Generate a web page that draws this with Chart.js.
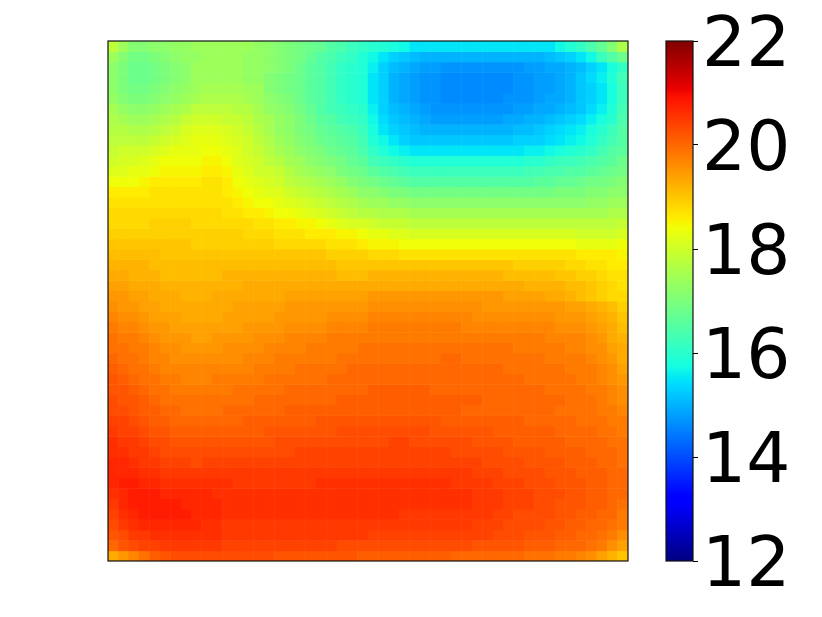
<!DOCTYPE html>
<html><head><meta charset="utf-8">
<script src="https://cdn.jsdelivr.net/npm/chart.js@4"></script>
<style>html,body{margin:0;padding:0;background:#fff}canvas{position:absolute;left:0;top:0}</style>
</head><body>
<canvas id="heat" width="822" height="617"></canvas>
<canvas id="bar" width="822" height="617"></canvas>
<script>
// Heat values in tenths of a unit; each row runs left to right, first row is the top of the map.
const row00=[178,174,171,171,172,172,173,173,174,174,174,174,174,174,173,172,171,170,169,168,167,165,164,162,161,160,159,158,157,155,155,155,155,155,155,155,155,155,155,155,155,155,155,157,159,161,164,167,171,176];
const row01=[174,171,169,169,170,171,172,173,173,174,174,174,174,173,173,172,171,170,169,167,165,164,162,161,159,157,155,153,152,151,150,150,150,150,150,150,150,150,150,150,150,150,151,152,153,155,157,162,165,168];
const row02=[172,170,168,168,169,170,171,172,174,174,174,174,174,173,173,172,171,170,168,166,165,163,161,160,159,156,153,151,150,149,148,148,147,147,147,147,147,147,147,147,148,148,149,149,150,151,153,155,158,161];
const row03=[172,170,168,168,169,170,171,172,174,174,174,174,174,173,173,171,170,169,168,166,165,163,161,160,159,155,153,150,149,148,147,147,146,146,146,146,146,146,146,147,147,148,148,149,150,152,154,156,159,163];
const row04=[172,170,169,169,170,171,172,173,174,175,175,175,175,174,174,171,170,169,168,166,165,163,161,160,159,155,153,150,149,148,147,147,146,146,146,146,146,146,146,147,147,148,148,149,150,152,153,155,158,162];
const row05=[173,171,170,170,171,172,173,174,175,176,176,176,176,175,174,172,171,170,168,166,165,163,161,160,159,155,153,150,149,148,147,147,146,146,146,146,146,146,147,147,147,148,149,149,150,152,153,155,158,162];
const row06=[175,173,172,172,173,174,175,176,178,178,178,178,177,177,175,173,172,171,169,167,165,163,162,161,160,156,153,151,150,149,148,147,147,147,147,147,147,147,147,148,148,149,149,150,151,152,154,156,159,163];
const row07=[176,175,174,174,175,176,177,179,180,180,180,179,179,178,176,175,173,172,170,168,166,165,163,162,161,157,154,152,151,150,149,148,148,148,148,148,148,148,149,149,150,150,151,152,153,154,156,158,160,164];
const row08=[177,177,176,176,177,178,179,181,182,182,182,181,180,179,177,175,173,172,170,169,167,166,165,164,162,158,155,153,152,151,150,150,150,150,150,150,150,150,150,151,151,152,153,154,155,156,158,160,162,165];
const row09=[178,178,178,178,179,180,181,182,183,183,183,182,181,180,178,176,174,173,171,170,168,167,166,165,163,159,157,155,153,152,152,152,152,152,152,152,152,152,152,153,153,153,154,155,156,157,159,161,163,165];
const row10=[179,180,180,180,181,182,183,183,183,184,184,183,182,180,179,177,175,174,172,171,170,168,167,166,164,161,159,157,156,155,155,155,155,155,155,155,155,155,155,155,156,156,157,158,159,160,161,163,165,166];
const row11=[180,181,181,182,183,184,184,184,184,185,185,184,182,181,180,178,177,175,174,172,171,170,169,167,166,163,162,161,160,159,159,159,159,159,159,159,159,159,159,159,160,160,161,162,162,163,164,165,166,168];
const row12=[182,182,183,183,184,185,185,185,185,186,186,185,183,182,180,180,179,177,175,174,173,172,170,169,168,166,165,164,163,162,162,162,162,162,162,162,162,162,162,162,163,163,164,164,165,165,166,167,168,169];
const row13=[184,184,184,185,186,186,186,186,186,187,187,186,184,183,182,181,180,178,177,176,175,174,173,171,170,169,168,167,166,165,165,165,165,165,165,165,165,165,165,165,165,166,166,167,167,168,169,169,170,171];
const row14=[186,186,186,186,187,187,187,187,187,187,187,186,185,184,183,182,182,180,179,178,177,176,175,174,172,172,171,170,170,169,169,169,169,169,169,169,169,169,169,169,169,169,169,170,170,170,171,171,172,172];
const row15=[187,187,187,187,187,187,187,187,187,187,187,187,186,185,184,184,183,182,181,180,179,178,177,176,175,174,174,173,173,172,172,172,172,172,172,172,172,172,172,172,172,172,172,172,172,172,173,173,174,174];
const row16=[188,188,188,188,188,188,188,188,188,188,188,187,187,186,186,185,184,184,183,182,181,180,179,178,177,177,176,176,176,175,175,175,175,175,175,175,175,175,175,175,175,175,175,175,175,175,175,175,176,176];
const row17=[188,188,188,188,189,189,189,189,188,188,188,188,188,188,187,187,186,186,185,185,184,183,182,181,181,180,179,179,179,178,178,178,178,178,178,178,178,178,178,178,178,178,178,178,178,178,178,178,178,179];
const row18=[189,189,189,189,189,189,189,189,189,189,189,189,189,188,188,188,187,187,187,186,186,186,185,185,184,183,183,182,182,181,181,181,181,181,181,181,181,181,181,181,181,181,181,181,181,180,180,180,180,181];
const row19=[190,190,190,190,190,190,190,190,189,189,189,189,189,189,189,189,188,188,188,188,188,187,187,187,186,185,185,185,184,184,184,184,184,184,184,184,184,184,184,184,184,184,184,184,184,183,183,183,183,184];
const row20=[191,191,191,191,191,190,190,190,190,190,190,190,190,190,190,190,190,190,190,190,190,189,189,189,189,188,188,188,187,187,187,187,187,187,187,187,187,187,187,187,187,187,187,187,187,186,186,186,186,185];
const row21=[192,192,192,192,191,191,191,191,191,191,191,191,191,191,191,191,191,191,191,191,191,191,190,190,190,190,190,190,190,190,190,190,190,190,190,190,190,190,190,189,189,189,189,189,188,188,187,187,186,186];
const row22=[193,193,192,192,192,191,191,191,191,191,191,192,192,192,192,192,192,192,192,192,192,192,191,191,191,192,192,192,192,192,192,192,192,192,192,192,192,192,191,191,191,191,191,190,190,189,189,188,187,187];
const row23=[194,194,193,193,193,192,192,192,192,192,192,192,192,193,193,193,193,193,193,193,193,193,193,193,193,193,193,193,193,193,193,193,193,193,193,193,193,193,193,193,192,192,192,192,191,191,190,189,188,187];
const row24=[195,195,194,194,193,193,193,192,192,192,193,193,193,193,193,193,193,194,194,194,194,194,194,194,194,195,195,195,195,195,195,195,195,195,195,195,195,195,194,194,194,194,193,193,192,191,190,189,188,188];
const row25=[196,195,195,194,194,193,193,193,193,193,193,193,194,194,194,194,194,195,195,195,195,195,195,195,195,196,196,196,196,196,196,196,196,196,196,196,195,195,195,195,195,195,195,195,194,194,193,192,191,189];
const row26=[197,196,196,195,194,194,194,193,193,193,193,194,194,194,194,194,195,195,195,195,195,196,196,196,196,197,197,197,197,197,197,197,197,197,197,196,196,196,196,196,196,196,196,195,195,195,194,193,192,190];
const row27=[198,197,197,196,195,195,194,194,194,194,194,194,194,195,195,195,195,196,196,196,196,197,197,197,197,198,198,198,198,198,198,198,198,198,197,197,197,197,197,197,197,197,197,196,196,196,195,194,193,191];
const row28=[199,198,198,197,196,195,195,195,194,194,195,195,195,195,196,196,196,197,197,197,197,198,198,198,198,198,198,198,198,198,198,198,198,198,198,198,198,198,198,198,198,198,197,197,197,197,196,195,193,192];
const row29=[199,199,198,198,197,196,196,195,195,195,195,196,196,196,196,197,197,197,197,198,198,198,198,198,199,199,199,199,199,199,199,199,199,199,199,199,199,199,199,198,198,198,198,198,197,197,196,196,194,193];
const row30=[200,199,199,198,197,197,196,196,196,196,196,196,196,197,197,197,198,198,198,198,198,198,199,199,199,199,199,199,199,199,199,199,200,200,199,199,199,199,199,199,199,199,198,198,198,198,197,196,195,193];
const row31=[201,200,199,199,198,197,197,197,197,197,197,197,197,197,198,198,198,198,199,199,199,199,199,200,200,200,200,200,200,200,200,200,200,200,200,200,200,200,199,199,199,199,199,199,198,198,198,197,196,194];
const row32=[202,201,200,199,199,198,198,197,197,197,198,198,198,198,198,199,199,199,199,199,199,200,200,200,200,200,200,200,200,200,200,200,200,200,200,200,200,200,200,200,199,199,199,199,199,198,198,197,196,195];
const row33=[202,202,201,200,199,199,198,198,198,198,198,198,199,199,199,199,199,200,200,200,200,200,200,200,200,201,201,201,201,201,201,200,200,200,200,200,200,200,200,200,200,200,199,199,199,199,198,198,197,196];
const row34=[203,202,202,201,200,199,199,199,199,199,199,199,199,199,200,200,200,200,200,200,200,200,201,201,201,201,201,201,201,201,201,201,201,201,201,201,200,200,200,200,200,200,200,200,199,199,199,198,197,196];
const row35=[203,203,202,201,201,200,200,199,199,199,199,200,200,200,200,200,200,201,201,201,201,201,201,201,201,201,201,201,201,201,201,201,201,201,200,200,200,200,200,200,200,200,200,199,199,199,199,198,198,197];
const row36=[204,204,203,202,201,201,200,200,200,200,200,200,200,201,201,201,201,201,201,201,202,202,202,202,202,202,202,202,202,202,202,202,201,201,201,201,201,201,201,201,200,200,200,200,200,199,199,199,198,198];
const row37=[205,204,204,203,202,202,201,201,201,201,201,201,201,201,201,202,202,202,202,202,202,202,203,203,203,203,203,203,203,203,203,202,202,202,202,202,202,201,201,201,201,201,201,200,200,200,200,199,199,198];
const row38=[206,205,205,204,203,203,202,202,202,202,202,202,202,202,202,202,203,203,203,203,203,203,203,203,203,203,203,204,204,203,203,203,203,203,203,202,202,202,202,201,201,201,201,201,200,200,200,200,199,199];
const row39=[206,206,205,205,204,203,203,203,203,203,203,203,203,203,203,203,203,203,204,204,204,204,204,204,204,204,204,204,204,204,204,204,204,203,203,203,203,203,202,202,202,202,201,201,201,201,200,200,200,199];
const row40=[207,207,206,205,205,204,204,204,203,204,204,204,204,204,204,204,204,204,204,204,204,204,204,204,204,204,204,204,204,204,204,204,204,204,204,204,203,203,203,203,202,202,202,202,201,201,201,200,200,199];
const row41=[207,207,207,206,206,205,205,205,205,205,205,205,205,205,205,205,205,205,205,205,205,205,205,205,205,205,205,205,205,205,205,205,205,205,205,204,204,204,203,203,203,203,202,202,202,201,201,201,200,200];
const row42=[207,208,208,207,207,206,206,206,206,206,206,206,205,205,205,205,205,205,205,205,206,206,206,206,206,206,206,206,206,206,206,206,206,205,205,205,205,204,204,204,203,203,203,202,202,202,201,201,200,200];
const row43=[206,207,208,208,208,207,207,207,207,207,206,206,206,206,206,206,206,206,206,206,206,206,206,206,206,206,206,206,206,206,206,206,206,206,206,205,205,205,204,204,204,203,203,203,202,202,201,201,200,200];
const row44=[205,207,208,208,208,208,208,207,207,207,207,206,206,206,206,206,206,206,206,206,206,206,206,206,206,206,206,206,206,206,206,206,206,206,206,205,205,205,204,204,204,203,203,202,202,202,201,201,200,199];
const row45=[204,206,207,208,208,208,208,208,207,207,207,206,206,206,206,206,206,206,206,206,206,206,206,206,206,206,206,206,205,205,205,205,205,205,205,205,205,204,204,203,203,203,203,202,202,201,201,200,200,198];
const row46=[203,205,206,207,207,207,207,207,207,206,206,205,205,205,205,205,205,205,205,205,205,205,205,205,205,205,205,205,205,205,205,205,205,205,205,204,204,204,203,203,203,203,202,202,201,201,200,200,199,198];
const row47=[202,203,205,205,206,206,206,206,206,206,206,205,205,205,205,205,205,205,205,205,205,205,205,205,205,204,204,204,204,204,204,204,204,204,204,204,204,203,203,203,202,202,202,201,201,200,200,199,198,196];
const row48=[200,202,203,204,204,205,205,205,205,205,205,204,204,204,204,204,204,204,204,204,204,204,203,203,203,203,203,203,203,203,203,203,203,203,203,202,202,202,202,202,201,201,201,200,200,200,199,198,196,194];
const row49=[193,195,197,199,201,202,203,203,203,203,203,203,203,203,203,203,202,202,202,202,202,202,202,202,201,201,201,201,201,201,201,201,201,200,200,200,200,200,200,200,199,199,199,198,198,197,196,194,192,190];
const rows=[row00,row01,row02,row03,row04,row05,row06,row07,row08,row09,row10,row11,row12,row13,row14,row15,row16,row17,row18,row19,row20,row21,row22,row23,row24,row25,row26,row27,row28,row29,row30,row31,row32,row33,row34,row35,row36,row37,row38,row39,row40,row41,row42,row43,row44,row45,row46,row47,row48,row49];
const colorbarTicks=[12,14,16,18,20,22];

const vMin=colorbarTicks[0], vMax=colorbarTicks[colorbarTicks.length-1];
const seg={r:[[0,0],[.35,0],[.66,1],[.89,1],[1,.5]],g:[[0,0],[.125,0],[.375,1],[.64,1],[.91,0],[1,0]],b:[[0,.5],[.11,1],[.34,1],[.65,0],[1,0]]};
function ch(s,t){for(let i=1;i<s.length;i++){if(t<=s[i][0]){const a=s[i-1],b=s[i];return a[1]+(b[1]-a[1])*(t-a[0])/(b[0]-a[0]);}}return s[s.length-1][1];}
function jet(t){t=Math.max(0,Math.min(1,t));return `rgb(${Math.round(255*ch(seg.r,t))},${Math.round(255*ch(seg.g,t))},${Math.round(255*ch(seg.b,t))})`;}
const frame={id:'frame',afterDatasetsDraw(c){const a=c.chartArea,x=c.ctx;x.save();x.strokeStyle='#111';x.lineWidth=1.2;x.strokeRect(a.left,a.top,a.width,a.height);x.restore();}};

new Chart(document.getElementById('heat'),{
  type:'bar',
  data:{
    labels:row00.map((_,j)=>j),
    datasets:rows.map((r,i)=>({
      data:r.map(()=>[i,i+1.05]),
      backgroundColor:r.map(v=>jet((v/10-vMin)/(vMax-vMin))),
      borderWidth:0,grouped:false,barPercentage:1.05,categoryPercentage:1
    }))
  },
  options:{responsive:false,animation:false,events:[],
    layout:{autoPadding:false,padding:{left:108,top:41,right:194,bottom:56}},
    plugins:{legend:{display:false},tooltip:{enabled:false}},
    scales:{x:{type:'category',display:false},y:{type:'linear',min:0,max:rows.length,reverse:true,display:false}}
  },
  plugins:[frame]
});

const stops=[0,.11,.125,.34,.35,.375,.64,.65,.66,.89,.91,1];
new Chart(document.getElementById('bar'),{
  type:'bar',
  data:{labels:['c'],datasets:[{data:[[vMin,vMax]],borderWidth:0,barPercentage:1,categoryPercentage:1,
    backgroundColor(ctx){const a=ctx.chart.chartArea;if(!a)return '#000';const g=ctx.chart.ctx.createLinearGradient(0,a.bottom,0,a.top);stops.forEach(s=>g.addColorStop(s,jet(s)));return g;}}]},
  options:{responsive:false,animation:false,events:[],
    layout:{autoPadding:false,padding:{left:666,top:41,right:0,bottom:56}},
    plugins:{legend:{display:false},tooltip:{enabled:false}},
    scales:{
      x:{type:'category',display:false},
      y:{type:'linear',position:'right',min:vMin,max:vMax,
        afterFit(s){s.width=129;},
        afterBuildTicks(s){s.ticks=colorbarTicks.map(v=>({value:v}));},
        border:{display:false},
        grid:{drawOnChartArea:false,drawTicks:true,tickLength:5,color:'#000',lineWidth:1},
        ticks:{color:'#000',padding:4,font:{family:'DejaVu Sans',size:69.4,lineHeight:0.187},crossAlign:'near',maxRotation:0,
          callback(v){return ['',String(v)];}}
      }
    }
  },
  plugins:[frame]
});
</script>
</body></html>
